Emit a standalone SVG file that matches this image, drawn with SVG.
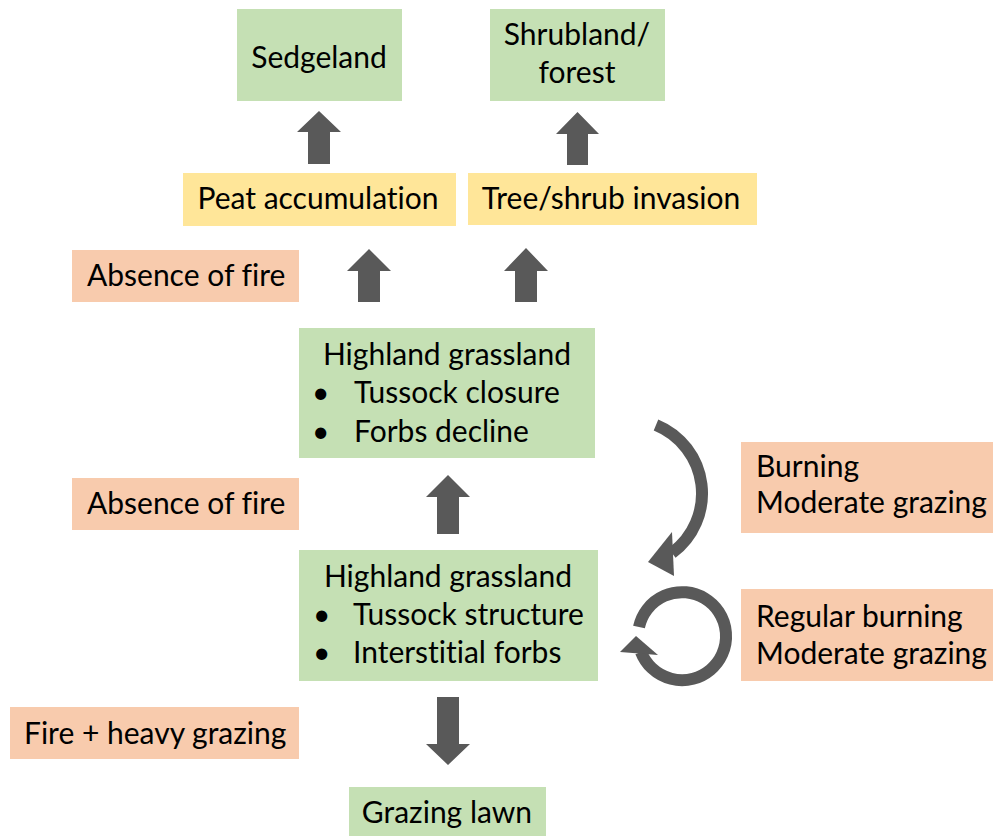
<svg xmlns="http://www.w3.org/2000/svg" width="993" height="836" viewBox="0 0 993 836">
<style>
.g{fill:#C5E0B4}
.y{fill:#FFE699}
.o{fill:#F8CBAD}
text{font-family:Lato,"Open Sans","Liberation Sans",sans-serif;font-size:30px;fill:#000;font-variant-ligatures:none}
.m{text-anchor:middle}
.arr{fill:#595959}
.crv{fill:none;stroke:#595959;stroke-width:12}
</style>
<rect width="993" height="836" fill="#fff"/>
<g id="sedgeland"><rect class="g" x="237" y="9" width="165" height="92"/><text class="m" x="319" y="68">Sedgeland</text></g>
<g id="shrubland"><rect class="g" x="490" y="9" width="175" height="92"/><text class="m" x="577" y="45">Shrubland/</text><text class="m" x="577" y="83">forest</text></g>
<g id="peat"><rect class="y" x="183" y="173" width="273" height="53"/><text class="m" x="318" y="209">Peat accumulation</text></g>
<g id="tree"><rect class="y" x="468" y="173" width="289" height="52"/><text class="m" x="611" y="209">Tree/shrub invasion</text></g>
<g id="absence1"><rect class="o" x="72" y="250" width="227" height="52"/><text x="87" y="286">Absence of fire</text></g>
<g id="hg1"><rect class="g" x="299" y="328" width="296" height="130"/><text class="m" x="447" y="365">Highland grassland</text><text x="312" y="403">•</text><text x="354" y="403">Tussock closure</text><text x="312" y="442">•</text><text x="354" y="442">Forbs decline</text></g>
<g id="absence2"><rect class="o" x="72" y="478" width="227" height="52"/><text x="87" y="514">Absence of fire</text></g>
<g id="burning"><rect class="o" x="741" y="442" width="252" height="91"/><text x="756" y="477">Burning</text><text x="756" y="513">Moderate grazing</text></g>
<g id="hg2"><rect class="g" x="299" y="550" width="299" height="131"/><text class="m" x="448" y="587">Highland grassland</text><text x="313" y="625">•</text><text x="353" y="625">Tussock structure</text><text x="313" y="663">•</text><text x="353" y="663">Interstitial forbs</text></g>
<g id="regular"><rect class="o" x="741" y="589" width="252" height="92"/><text x="756" y="627">Regular burning</text><text x="756" y="664">Moderate grazing</text></g>
<g id="fire"><rect class="o" x="10" y="707" width="289" height="52"/><text x="24" y="744">Fire + heavy grazing</text></g>
<g id="lawn"><rect class="g" x="349" y="787" width="197" height="49"/><text class="m" x="447" y="823">Grazing lawn</text></g>
<g id="connectors">
<polygon class="arr" points="319,111 341,132 330,132 330,164 308,164 308,132 297,132"/>
<polygon class="arr" points="577.5,112 599,134 588,134 588,165 567,165 567,134 556,134"/>
<polygon class="arr" points="369,249 391,271 380,271 380,302 358,302 358,271 347,271"/>
<polygon class="arr" points="526,248 548,271 537,271 537,302 515,302 515,271 504,271"/>
<polygon class="arr" points="448,475 470,497 459,497 459,534 437,534 437,497 426,497"/>
<polygon class="arr" points="448,765 470,744 459,744 459,697 437,697 437,744 426,744"/>
<path class="crv" d="M 656 425 A 74 74 0 0 1 672 553"/>
<polygon class="arr" points="672,532 648,562 674,576"/>
<path class="crv" d="M 639 627 A 44 44 0 1 1 641 652"/>
<polygon class="arr" points="620,652 636,636 658,655"/>
</g>
</svg>
